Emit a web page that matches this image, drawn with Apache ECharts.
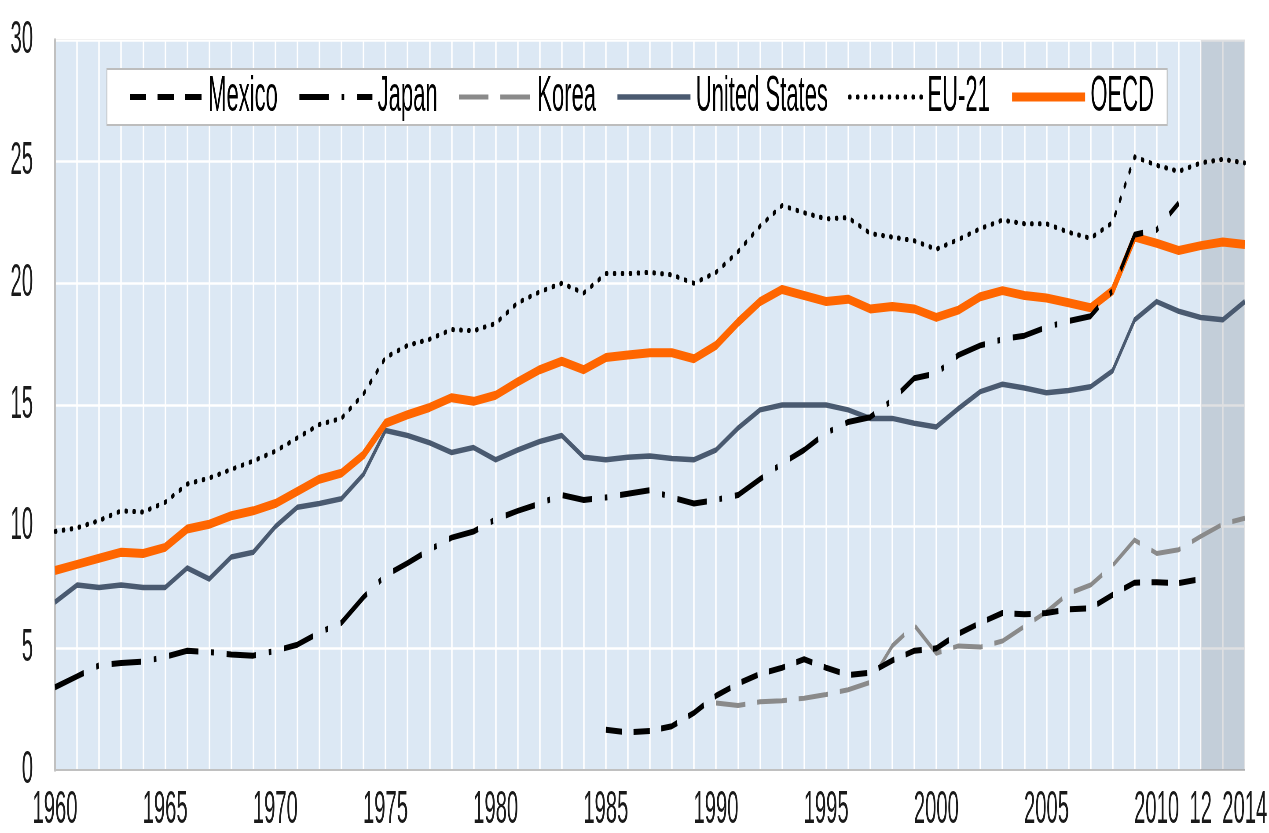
<!DOCTYPE html>
<html><head><meta charset="utf-8">
<script src="https://cdn.jsdelivr.net/npm/echarts@6/dist/echarts.min.js"></script>
<style>
html,body{margin:0;padding:0;background:#fff;overflow:hidden;width:1269px;height:833px;}
#chart{width:2884px;height:833px;transform:scaleX(0.44);transform-origin:0 0;}
</style></head><body><div id="chart"></div>
<script>
// Categories
const firstYear = 1960, lastYear = 2014;
const years = [];
for (let y = firstYear; y <= lastYear; y++) years.push(String(y));
const shadedYears = ['2012', '2014'];
const yTicks = { min: 0, max: 30, interval: 5 };

// Series values (start year + values)
const mexicoStart = 1985;
const mexico = [1.65,1.55,1.6,1.8,2.35,3.05,3.55,3.95,4.2,4.55,
  4.2,3.9,4.0,4.5,4.9,5.0,5.6,6.05,6.45,6.4,
  6.45,6.6,6.65,7.2,7.7,7.72,7.68,7.85];
const japanStart = 1960;
const japan = [3.4,3.85,4.3,4.4,4.45,4.65,4.9,4.85,4.75,4.7,
  4.9,5.15,5.65,6.05,7.1,8.0,8.5,9.05,9.55,9.8,
  10.3,10.65,10.95,11.3,11.1,11.2,11.35,11.5,11.2,10.95,
  11.1,11.3,11.95,12.6,13.15,13.85,14.3,14.5,15.2,16.1,
  16.3,17.05,17.45,17.7,17.85,18.2,18.45,18.65,19.7,22.0,
  22.2,23.3];
const koreaStart = 1990;
const korea = [2.75,2.65,2.8,2.85,2.95,3.1,3.3,3.6,5.1,5.95,
  4.8,5.1,5.05,5.3,5.9,6.5,7.25,7.6,8.4,9.45,
  8.9,9.05,9.6,10.1,10.35];
const usStart = 1960;
const unitedStates = [6.9,7.6,7.5,7.6,7.5,7.5,8.3,7.85,8.75,8.95,
  10.0,10.8,10.95,11.15,12.15,13.95,13.75,13.45,13.05,13.25,
  12.75,13.15,13.5,13.75,12.85,12.75,12.85,12.9,12.8,12.75,
  13.15,14.05,14.8,15.0,15.0,15.0,14.8,14.45,14.45,14.25,
  14.1,14.85,15.55,15.85,15.7,15.5,15.6,15.75,16.4,18.5,
  19.25,18.85,18.6,18.5,19.25];
const euStart = 1960;
const eu21 = [9.8,9.95,10.25,10.65,10.6,11.0,11.75,12.0,12.35,12.7,
  13.1,13.65,14.2,14.45,15.45,16.95,17.45,17.7,18.1,18.05,
  18.35,19.2,19.65,20.0,19.6,20.4,20.4,20.45,20.35,20.0,
  20.45,21.3,22.35,23.2,22.9,22.65,22.7,22.05,21.9,21.75,
  21.4,21.8,22.25,22.6,22.45,22.45,22.1,21.85,22.5,25.2,
  24.85,24.6,24.95,25.1,24.95];
const oecdStart = 1960;
const oecd = [8.2,8.45,8.7,8.95,8.9,9.15,9.9,10.1,10.45,10.65,
  10.95,11.45,11.95,12.2,12.95,14.25,14.6,14.9,15.3,15.15,
  15.4,15.95,16.45,16.8,16.45,16.95,17.05,17.15,17.15,16.9,
  17.45,18.4,19.25,19.75,19.5,19.25,19.35,18.95,19.05,18.95,
  18.6,18.9,19.45,19.7,19.5,19.4,19.2,19.0,19.7,21.9,
  21.65,21.35,21.55,21.7,21.6];
const legendNames = ['Mexico','Japan','Korea','United States','EU-21','OECD'];

function pad(start, vals) {
  return years.map(y => {
    const i = Number(y) - start;
    return (i >= 0 && i < vals.length) ? vals[i] : null;
  });
}

const FONT = "'Liberation Sans',Arial,sans-serif";
const chart = echarts.init(document.getElementById('chart'), null, { renderer: 'canvas' });

function line(name, data, color, width, type, z, cap) {
  return {
    name, type: 'line', data, symbol: 'none', z, connectNulls: false, animation: false,
    lineStyle: { color, width, type, cap: cap || 'butt', join: 'round' },
    itemStyle: { color },
    emphasis: { disabled: true }
  };
}

const seriesList = [
  Object.assign(line('United States', pad(usStart, unitedStates), '#4a5a70', 5.5, 'solid', 3), {
    markArea: {
      silent: true,
      itemStyle: { color: 'rgba(110,115,125,0.22)' },
      data: [[{ xAxis: shadedYears[0] }, { xAxis: shadedYears[1] }]]
    }
  }),
  line('EU-21', pad(euStart, eu21), '#000000', 5, [3, 15], 3, 'round'),
  line('Korea', pad(koreaStart, korea), '#8a8a8a', 5, [67, 27], 4),
  line('Mexico', pad(mexicoStart, mexico), '#000000', 6, [37, 26], 5),
  line('OECD', pad(oecdStart, oecd), '#ff6600', 9, 'solid', 4),
  line('Japan', pad(japanStart, japan), '#000000', 6, [67, 29, 6, 29], 6)
];

chart.setOption({
  animation: false,
  backgroundColor: '#ffffff',
  grid: {
    left: 125, right: 55, top: 40, bottom: 58,
    show: true, backgroundColor: '#dce8f4', borderColor: '#c8c8c8', borderWidth: 2,
    containLabel: false
  },
  legend: {
    data: legendNames,
    left: 243, top: 69,
    orient: 'horizontal',
    backgroundColor: '#ffffff', borderColor: '#bdbdbd', borderWidth: 2,
    padding: [3, 30, 3, 49],
    itemWidth: 166, itemHeight: 14, itemGap: 46,
    lineStyle: { width: 'inherit' },
    itemStyle: { opacity: 0, borderWidth: 0 },
    textStyle: { fontFamily: FONT, fontSize: 50, color: '#000', padding: [0, 0, 0, 7] },
    selectedMode: false
  },
  xAxis: {
    type: 'category', data: years, boundaryGap: false,
    axisLine: { show: true, lineStyle: { color: '#c0c0c0', width: 2 } },
    axisTick: { show: false },
    splitLine: { show: true, interval: 0, lineStyle: { color: '#ffffff', width: 3.5 } },
    axisLabel: {
      fontFamily: FONT, fontSize: 46, color: '#1a1a1a', margin: 17,
      interval: function (idx, val) {
        const y = Number(val);
        return (y % 5 === 0 && y <= 2010) || y === 2012 || y === 2014;
      },
      formatter: function (val) { return val === '2012' ? '12' : val; }
    }
  },
  yAxis: {
    type: 'value', min: yTicks.min, max: yTicks.max, interval: yTicks.interval,
    axisLine: { show: true, lineStyle: { color: '#c0c0c0', width: 4 } },
    axisTick: { show: false },
    splitLine: { show: true, lineStyle: { color: '#ffffff', width: 2.5 } },
    axisLabel: { fontFamily: FONT, fontSize: 46, color: '#1a1a1a', margin: 50 }
  },
  series: seriesList
});
</script></body></html>
